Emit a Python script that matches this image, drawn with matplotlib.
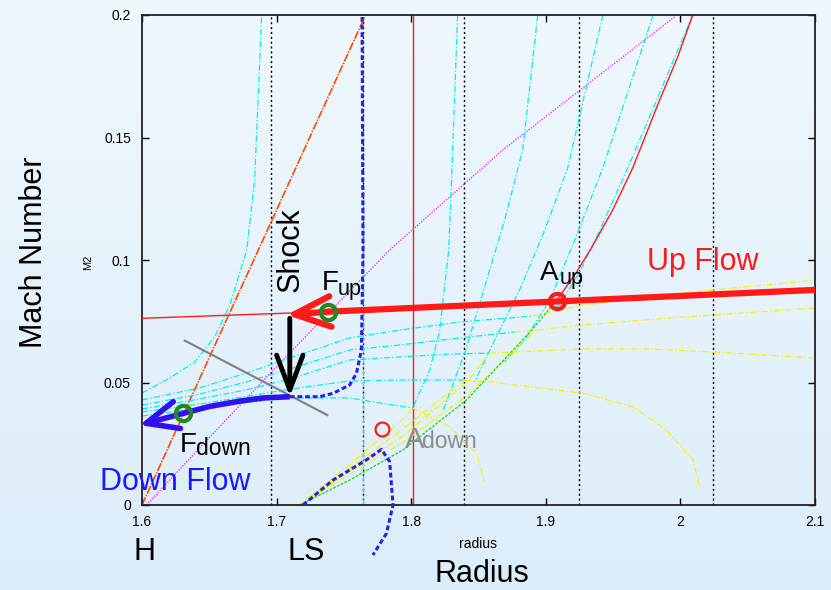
import numpy as np
import matplotlib
matplotlib.use("Agg")
import matplotlib.pyplot as plt
from matplotlib.colors import LinearSegmentedColormap

plt.rcParams['font.family'] = ['Liberation Sans', 'DejaVu Sans']
plt.rcParams['lines.scale_dashes'] = False

# ---------------- data ----------------
x_ticks = [1.6, 1.7, 1.8, 1.9, 2.0, 2.1]
x_tick_labels = ['1.6', '1.7', '1.8', '1.9', '2', '2.1']
y_ticks = [0, 0.05, 0.1, 0.15, 0.2]
y_tick_labels = ['0', '0.05', '0.1', '0.15', '0.2']

dotted_x = [1.696, 1.764, 1.839, 1.925, 2.024]
red_vline_x = 1.8017

orange_x = [1.600, 1.7661]
orange_y = [0.0, 0.2]

magenta_x = [1.6033, 1.65, 1.70, 1.7322, 1.784, 1.868, 1.9958]
magenta_y = [0.0, 0.0275, 0.0565, 0.0748, 0.1041, 0.1449, 0.1993]

gray_x = [1.6318, 1.7377]
gray_y = [0.0671, 0.0367]

# steep cyan curves
c1_x = [1.600, 1.6206, 1.6392, 1.654, 1.6652, 1.6778, 1.6837, 1.6889]
c1_y = [0.0457, 0.0518, 0.0584, 0.0686, 0.0816, 0.1041, 0.1327, 0.2]
c2_x = [1.8345, 1.8308, 1.8279, 1.8212, 1.8138, 1.8011]
c2_y = [0.2, 0.1449, 0.1041, 0.0714, 0.0551, 0.0396]
c3_x = [1.894, 1.8828, 1.8694, 1.8583, 1.8405, 1.8234]
c3_y = [0.2, 0.1449, 0.1163, 0.0959, 0.0633, 0.0380]
c4_x = [1.9424, 1.9163, 1.8992, 1.8806, 1.862, 1.8471]
c4_y = [0.2, 0.1376, 0.1122, 0.0878, 0.0673, 0.0502]
c5_x = [1.9797, 1.9424, 1.9215, 1.903, 1.8843, 1.8694]
c5_y = [0.2, 0.1376, 0.1082, 0.0837, 0.0673, 0.0584]
c6_x = [2.0092, 1.9609, 1.9401, 1.9259, 1.9104, 1.903]
c6_y = [0.2, 0.1376, 0.1122, 0.0959, 0.0816, 0.0796]
cyan_vert_x = 1.7645
cyan_vert_y = [0.0, 0.125]

# flat cyan curves (subsonic side)
f1_x = [1.600, 1.6429, 1.680, 1.7097, 1.7543, 1.7915, 1.836, 1.8903]
f1_y = [0.0429, 0.0478, 0.0543, 0.0600, 0.0682, 0.0714, 0.0747, 0.0771]
f2_x = [1.600, 1.6429, 1.680, 1.7097, 1.7543, 1.7915, 1.836, 1.8769]
f2_y = [0.0408, 0.0453, 0.0506, 0.0555, 0.0633, 0.0653, 0.0682, 0.0706]
f3_x = [1.600, 1.6429, 1.680, 1.7097, 1.7543, 1.7915, 1.8286, 1.8583]
f3_y = [0.0392, 0.0433, 0.0473, 0.0514, 0.0592, 0.0604, 0.0616, 0.0620]
f4_x = [1.600, 1.6429, 1.680, 1.7097, 1.7543, 1.7915, 1.8212, 1.8397]
f4_y = [0.0380, 0.0412, 0.0445, 0.0473, 0.0506, 0.0510, 0.0510, 0.0510]
f5_x = [1.600, 1.6429, 1.680, 1.7097, 1.732, 1.7543, 1.7766, 1.8011]
f5_y = [0.0363, 0.0396, 0.0420, 0.0437, 0.0437, 0.0437, 0.0416, 0.0396]

# yellow continuations to the right
ya_x = [1.8903, 1.9104, 1.9275, 2.0017, 2.1]
ya_y = [0.0771, 0.0796, 0.0816, 0.0865, 0.0918]
yb_x = [1.8769, 1.893, 1.9275, 2.0017, 2.1]
yb_y = [0.0706, 0.0714, 0.0735, 0.0767, 0.0804]
yc_x = [1.8583, 1.9275, 1.977, 2.0268, 2.1]
yc_y = [0.0620, 0.0637, 0.0637, 0.0624, 0.0600]
yd_x = [1.8397, 1.8583, 1.9276, 1.9648, 1.9896, 2.0094, 2.0143]
yd_y = [0.0510, 0.0503, 0.0456, 0.0401, 0.0306, 0.0184, 0.0075]
ye_x = [1.8011, 1.8286, 1.8484, 1.8546]
ye_y = [0.0396, 0.0319, 0.0211, 0.0095]

# yellow band (lower branches)
yb1_x = [1.7172, 1.735, 1.7543, 1.7937, 1.8011]
yb1_y = [0.0, 0.0080, 0.0165, 0.0350, 0.0396]
yb2_x = [1.7172, 1.7543, 1.7937, 1.8397]
yb2_y = [0.0, 0.0150, 0.0310, 0.0510]
yb3_x = [1.7172, 1.7543, 1.7937, 1.8412, 1.8583]
yb3_y = [0.0, 0.0140, 0.0280, 0.0500, 0.0620]
yb4_x = [1.7172, 1.7543, 1.7937, 1.8412, 1.893]
yb4_y = [0.0, 0.0125, 0.0255, 0.0445, 0.0714]

# green critical curve and red continuation
green_x = [1.7172, 1.7543, 1.7937, 1.8412, 1.8895, 1.9082]
green_y = [0.0, 0.0102, 0.0224, 0.0429, 0.0714, 0.0837]
redc_x = [1.9082, 1.9215, 1.9339, 1.9497, 1.9646, 1.9846, 1.998, 2.0092]
redc_y = [0.0837, 0.0939, 0.1049, 0.1204, 0.1376, 0.1653, 0.1829, 0.2]

# up flow (red) line
red_thin_x = [1.600, 1.7382]
red_thin_y = [0.0762, 0.0789]
red_thick_x = [1.7382, 2.1]
red_thick_y = [0.0789, 0.0878]
red_arrow_tip = (1.7073, 0.0776)

# shock (black arrow)
shock_from = (1.7098, 0.0762)
shock_to = (1.7098, 0.0442)

# down flow (blue)
blue_x = [1.7098, 1.69, 1.6727, 1.65, 1.6305]
blue_y = [0.0442, 0.0437, 0.0424, 0.0402, 0.0374]
blue_arrow_tip = (1.598, 0.0326)

blue_dash_up_x = [1.7098, 1.732, 1.742, 1.7543, 1.7593, 1.763, 1.7642, 1.7635]
blue_dash_up_y = [0.0442, 0.0442, 0.0456, 0.0490, 0.0537, 0.0633, 0.104, 0.2]
blue_dash_low_x = [1.7196, 1.742, 1.7667, 1.7779, 1.784, 1.7865, 1.7816, 1.7716]
blue_dash_low_y = [0.0, 0.0102, 0.0184, 0.0227, 0.0177, 0.0, -0.0116, -0.0204]

# points
f_up = (1.7382, 0.0789)
f_down = (1.6305, 0.0374)
a_up = (1.9083, 0.0834)
a_down = (1.7783, 0.0310)

# ---------------- figure ----------------
fig = plt.figure(figsize=(8.31, 5.90), dpi=100)
bg = fig.add_axes([0, 0, 1, 1], zorder=-10)
grad = np.linspace(0, 1, 256).reshape(-1, 1)
bg.imshow(grad, aspect='auto', extent=[0, 1, 0, 1], origin='upper',
          cmap=LinearSegmentedColormap.from_list('bg', ['#f0f8fd', '#dcedfa']))
bg.axis('off')

ax = fig.add_axes([142/831, 85/590, 673/831, 490/590])
ax.set_facecolor('none')
ax.set_xlim(1.6, 2.1)
ax.set_ylim(0, 0.2)

dashdot = (0, (4.5, 1.5, 1.0, 1.5))
cyan = '#00f0f0'
yellow = '#f5f500'

for xv in dotted_x:
    ax.axvline(xv, color='black', lw=1.0, ls=(0, (1.5, 2.0)), zorder=2)
ax.axvline(red_vline_x, color='#ff1a1a', lw=1.0, zorder=2)

ax.plot(orange_x, orange_y, color='#ff4a00', lw=1.2, ls=(0, (6, 1, 1, 1)), zorder=2)
ax.plot(magenta_x, magenta_y, color='#ff33ff', lw=1.0, ls=(0, (1, 1)), zorder=2)

for cx, cy in [(c1_x, c1_y), (c2_x, c2_y), (c3_x, c3_y), (c4_x, c4_y),
               (c5_x, c5_y), (c6_x, c6_y), (f1_x, f1_y), (f2_x, f2_y),
               (f3_x, f3_y), (f4_x, f4_y), (f5_x, f5_y)]:
    ax.plot(cx, cy, color=cyan, lw=0.9, ls=dashdot, zorder=2)
ax.plot([cyan_vert_x, cyan_vert_x], cyan_vert_y, color=cyan, lw=0.9, ls=dashdot, zorder=2)

for yx, yy in [(ya_x, ya_y), (yb_x, yb_y), (yc_x, yc_y), (yd_x, yd_y), (ye_x, ye_y),
               (yb1_x, yb1_y), (yb2_x, yb2_y), (yb3_x, yb3_y), (yb4_x, yb4_y)]:
    ax.plot(yx, yy, color=yellow, lw=0.9, ls=dashdot, zorder=2)

ax.plot(green_x, green_y, color='#22dd22', lw=1.0, ls=(0, (2, 1)), zorder=2.5)
ax.plot(redc_x, redc_y, color='#ff1a1a', lw=1.0, zorder=2.5)

ax.plot(gray_x, gray_y, color='#808080', lw=1.5, zorder=3)

ax.plot(blue_dash_up_x, blue_dash_up_y, color='#2a1fe6', lw=2.2, ls=(0, (3.5, 2)), zorder=3)
ax.plot(blue_dash_low_x, blue_dash_low_y, color='#2a1fe6', lw=2.2, ls=(0, (3.5, 2)),
        zorder=3, clip_on=False)

ax.plot(red_thin_x, red_thin_y, color='#ff1a1a', lw=1.0, zorder=3)
ax.plot(red_thick_x, red_thick_y, color='#ff1a1a', lw=4.5, zorder=4, solid_capstyle='butt')

ax.plot(blue_x, blue_y, color='#3311ee', lw=4.0, zorder=4, solid_capstyle='butt')


def arrow(start, tip, color, lw, hl, hw):
    ax.annotate('', xy=tip, xytext=start, annotation_clip=False,
                arrowprops=dict(arrowstyle=f'->,head_length={hl},head_width={hw}',
                                color=color, lw=lw, shrinkA=0, shrinkB=0,
                                mutation_scale=10), zorder=5)


arrow(f_up, red_arrow_tip, '#ff1a1a', 4.5, 2.6, 1.1)
arrow(shock_from, shock_to, 'black', 3.5, 2.5, 0.95)
arrow(f_down, blue_arrow_tip, '#3311ee', 4.0, 2.3, 1.0)

ax.plot(*f_up, 'o', mfc='none', mec='#1f8a1f', ms=11, mew=3, zorder=6)
ax.plot(*f_down, 'o', mfc='none', mec='#1f8a1f', ms=11, mew=3, zorder=6, clip_on=False)
ax.plot(*a_up, 'o', mfc='none', mec='#ff1a1a', ms=11, mew=3, zorder=6)
ax.plot(*a_down, 'o', mfc='none', mec='#ff1a1a', ms=10, mew=1.6, zorder=6)

# ticks
ax.set_xticks(x_ticks)
ax.set_xticklabels(x_tick_labels)
ax.set_yticks(y_ticks)
ax.set_yticklabels(y_tick_labels)
ax.tick_params(direction='in', length=5, width=1, top=True, right=True, labelsize=10)
ax.tick_params(axis='x', pad=7)
ax.tick_params(axis='y', pad=8)
for s in ax.spines.values():
    s.set_linewidth(1.3)
    s.set_color('#222222')

# annotation texts
ax.text(1.7333, 0.0878, 'F', fontsize=20, va='baseline', zorder=7)
ax.text(1.7454, 0.0857, 'up', fontsize=15.5, va='baseline', zorder=7)
ax.text(1.8960, 0.0918, 'A', fontsize=20, va='baseline', zorder=7)
ax.text(1.9104, 0.0902, 'up', fontsize=15.5, va='baseline', zorder=7)
ax.text(1.6280, 0.0218, 'F', fontsize=20, va='baseline', zorder=7)
ax.text(1.6400, 0.0204, 'down', fontsize=16.5, va='baseline', zorder=7)
ax.text(1.7953, 0.0231, 'A', fontsize=21, va='baseline', color='#8c8c8c', zorder=7)
ax.text(1.8080, 0.0231, 'down', fontsize=16.5, va='baseline', color='#8c8c8c', zorder=7)

fig.text(290.5/831, 1 - 250/590, 'Shock', fontsize=22, rotation=90,
         ha='center', va='center')
fig.text(647/831, 1 - 270/590, 'Up Flow', fontsize=22, color='#ff1a1a', va='baseline')
fig.text(100/831, 1 - 490/590, 'Down Flow', fontsize=22, color='#1a1aff', va='baseline')
fig.text(134/831, 1 - 560/590, 'H', fontsize=22, va='baseline')
fig.text(288/831, 1 - 560/590, 'LS', fontsize=22, va='baseline')
fig.text(482/831, 1 - 582/590, 'Radius', fontsize=22, ha='center', va='baseline')
fig.text(478/831, 1 - 548/590, 'radius', fontsize=10, ha='center', va='baseline')
fig.text(34/831, 1 - 252/590, 'Mach Number', fontsize=22, rotation=90,
         ha='center', va='center')
fig.text(88/831, 1 - 262/590, 'M2', fontsize=8, rotation=90, ha='center', va='center')

fig.savefig('out.png', dpi=100)
